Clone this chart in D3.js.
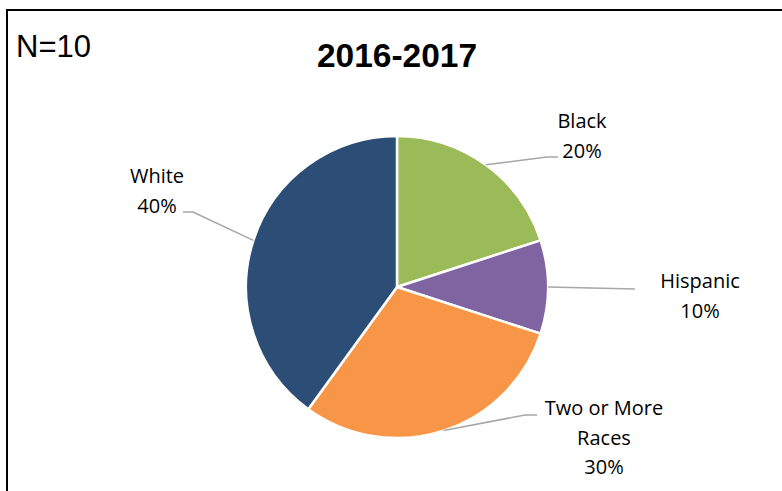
<!DOCTYPE html>
<html>
<head>
<meta charset="utf-8">
<script src="https://cdn.jsdelivr.net/npm/d3@7"></script>
<style>
html,body{margin:0;padding:0;background:#fff;overflow:hidden;}
</style>
</head>
<body>
<svg id="chart" width="782" height="491"></svg>
<script>
const categories = ["Black", "Hispanic", "Two or More Races", "White"];
const values = [20, 10, 30, 40];
const percentLabels = ["20%", "10%", "30%", "40%"];
const colors = ["#9BBB59", "#8064A2", "#F79646", "#2C4D75"];
const titleText = "2016-2017";
const noteText = "N=10";

const svg = d3.select("#chart");
const W = 782, H = 491;

svg.append("rect").attr("x", 0).attr("y", 0).attr("width", W).attr("height", H).attr("fill", "#fff");
// frame (extends past the window on right/bottom)
svg.append("rect").attr("x", 7).attr("y", 10).attr("width", 800).attr("height", 520)
  .attr("fill", "none").attr("stroke", "#000").attr("stroke-width", 2);

svg.append("text").attr("x", 16).attr("y", 57).text(noteText)
  .attr("font-family", "Liberation Sans, Arial, sans-serif").attr("font-size", 31).attr("fill", "#000");

svg.append("text").attr("x", 397).attr("y", 67).attr("text-anchor", "middle").text(titleText)
  .attr("font-family", "Liberation Sans, Arial, sans-serif").attr("font-weight", "bold")
  .attr("font-size", 33.5).attr("fill", "#000");

const cx = 397, cy = 287, r = 151;
const pie = d3.pie().sort(null).value(d => d)(values);
const arc = d3.arc().innerRadius(0).outerRadius(r);
const g = svg.append("g").attr("transform", `translate(${cx},${cy})`);

g.selectAll("path").data(pie).join("path")
  .attr("d", arc)
  .attr("fill", (d, i) => colors[i])
  .attr("stroke", "#fff").attr("stroke-width", 2.5).attr("stroke-linejoin", "round");

// label layout (relative to chart center): elbow, end, text center, first baseline, lines
const layout = [
  { elbow: [150, -130], end: [161, -130], tx: 185, ty: -159, lines: ["Black"] },
  { elbow: null, end: [238, 2], tx: 303, ty: 1, lines: ["Hispanic"] },
  { elbow: [128, 128], end: [140, 128], tx: 207, ty: 128, lines: ["Two or More", "Races"] },
  { elbow: [-204, -75], end: [-214, -75], tx: -240, ty: -104, lines: ["White"] }
];

pie.forEach((d, i) => {
  const L = layout[i];
  const mid = (d.startAngle + d.endAngle) / 2;
  const p0 = [r * Math.sin(mid), -r * Math.cos(mid)];
  const pts = [p0];
  if (L.elbow) pts.push(L.elbow);
  pts.push(L.end);
  g.append("path").attr("d", d3.line()(pts)).attr("fill", "none")
    .attr("stroke", "#A6A6A6").attr("stroke-width", 1.5);
  const lines = L.lines.concat([percentLabels[i]]);
  const t = g.append("text").attr("text-anchor", "middle")
    .attr("font-family", "Open Sans, Liberation Sans, sans-serif").attr("font-size", 20).attr("fill", "#000");
  lines.forEach((s, k) => {
    t.append("tspan").attr("x", L.tx).attr("y", L.ty + k * 29.5).text(s);
  });
});
</script>
</body>
</html>
